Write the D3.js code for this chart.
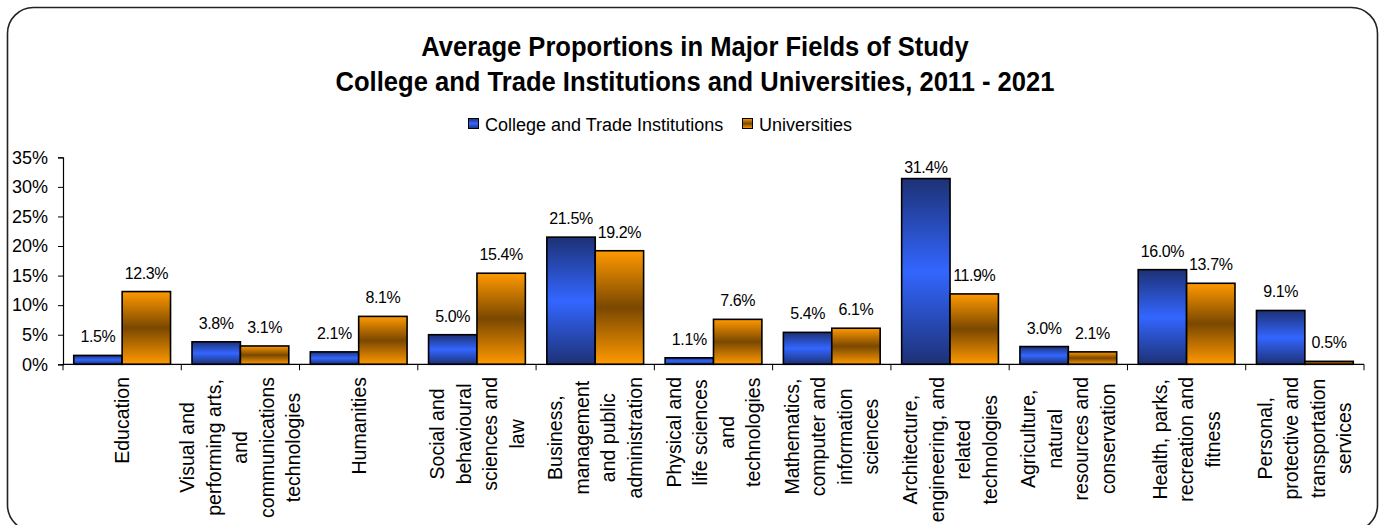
<!DOCTYPE html>
<html>
<head>
<meta charset="utf-8">
<script src="https://cdn.jsdelivr.net/npm/d3@7"></script>
<style>
  html, body { margin: 0; padding: 0; background: #fff; }
  svg { display: block; font-family: "Liberation Sans", Arial, sans-serif; }
</style>
</head>
<body>
<svg id="chart" width="1382" height="525"></svg>
<script>
const categories = [
  "Education",
  "Visual and|performing arts,|and|communications|technologies",
  "Humanities",
  "Social and|behavioural|sciences and|law",
  "Business,|management|and public|administration",
  "Physical and|life sciences|and|technologies",
  "Mathematics,|computer and|information|sciences",
  "Architecture,|engineering, and|related|technologies",
  "Agriculture,|natural|resources and|conservation",
  "Health, parks,|recreation and|fitness",
  "Personal,|protective and|transportation|services"
];
const seriesNames = ["College and Trade Institutions", "Universities"];
const collegeValues = [1.5, 3.8, 2.1, 5.0, 21.5, 1.1, 5.4, 31.4, 3.0, 16.0, 9.1];
const universityValues = [12.3, 3.1, 8.1, 15.4, 19.2, 7.6, 6.1, 11.9, 2.1, 13.7, 0.5];
const yTicks = [0, 5, 10, 15, 20, 25, 30, 35];
const titleLines = [
  "Average Proportions in Major Fields of Study",
  "College and Trade Institutions and Universities, 2011 - 2021"
];

const svg = d3.select("#chart");

// gradients
const defs = svg.append("defs");
const gBlue = defs.append("linearGradient").attr("id", "gBlue")
  .attr("x1", 0).attr("y1", 0).attr("x2", 0).attr("y2", 1);
gBlue.append("stop").attr("offset", "0%").attr("stop-color", "#1d3175");
gBlue.append("stop").attr("offset", "50%").attr("stop-color", "#3366ff");
gBlue.append("stop").attr("offset", "100%").attr("stop-color", "#1d3175");
const gOrange = defs.append("linearGradient").attr("id", "gOrange")
  .attr("x1", 0).attr("y1", 0).attr("x2", 0).attr("y2", 1);
gOrange.append("stop").attr("offset", "0%").attr("stop-color", "#ff9900");
gOrange.append("stop").attr("offset", "50%").attr("stop-color", "#7a4800");
gOrange.append("stop").attr("offset", "100%").attr("stop-color", "#ff9900");
const fills = ["url(#gBlue)", "url(#gOrange)"];

// frame
svg.append("rect")
  .attr("x", 7.5).attr("y", 7.5).attr("width", 1370).attr("height", 523.5)
  .attr("rx", 26).attr("ry", 26)
  .attr("fill", "#fff").attr("stroke", "#222").attr("stroke-width", 1.6);

// title (slightly condensed bold)
svg.append("g").attr("transform", "translate(695,0) scale(0.93,1)")
  .append("text")
  .attr("text-anchor", "middle")
  .attr("font-weight", "bold").attr("font-size", 27.5)
  .selectAll("tspan").data(titleLines).join("tspan")
  .attr("x", 0).attr("y", (d, i) => 56 + i * 35)
  .text(d => d);

// scales
const x = d3.scaleBand().domain(categories).range([63, 1364]).paddingInner(0).paddingOuter(0);
const xs = d3.scaleBand().domain(seriesNames).range([0, x.bandwidth()]).paddingInner(0).paddingOuter(0.222);
const y = d3.scaleLinear().domain([0, 35]).range([364.3, 157.3]);

// legend
const legend = svg.append("g").attr("font-size", 18);
const legendItems = [
  { name: seriesNames[0], x: 468 },
  { name: seriesNames[1], x: 742 }
];
legendItems.forEach((it, i) => {
  legend.append("rect").attr("x", it.x + 0.5).attr("y", 118.5).attr("width", 10).attr("height", 10)
    .attr("fill", fills[i]).attr("stroke", "#000").attr("stroke-width", 1);
  legend.append("text").attr("x", it.x + 17).attr("y", 130.5).text(it.name);
});

// y axis
const yAxis = svg.append("g").attr("transform", "translate(63,0)")
  .call(d3.axisLeft(y).tickValues(yTicks).tickFormat(d => d + "%").tickSize(5).tickPadding(10));
yAxis.select(".domain").attr("stroke", "#000").attr("stroke-width", 1.2);
yAxis.selectAll(".tick line").attr("stroke", "#000");
yAxis.selectAll(".tick text").attr("font-size", 18).attr("font-family", "Liberation Sans, Arial, sans-serif").attr("fill", "#000");

// bars
const rows = categories.map((c, i) => ({ cat: c, vals: [collegeValues[i], universityValues[i]] }));
const groups = svg.append("g").selectAll("g").data(rows).join("g")
  .attr("transform", d => `translate(${x(d.cat)},0)`);
groups.selectAll("rect").data(d => d.vals.map((v, k) => ({ v, k }))).join("rect")
  .attr("x", d => xs(seriesNames[d.k]))
  .attr("y", d => y(d.v))
  .attr("width", xs.bandwidth())
  .attr("height", d => y(0) - y(d.v))
  .attr("fill", d => fills[d.k])
  .attr("stroke", "#000").attr("stroke-width", 1.6);
const labelMinY = y(35) + 16;
groups.selectAll("text.val").data(d => d.vals.map((v, k) => ({ v, k }))).join("text")
  .attr("class", "val")
  .attr("x", d => xs(seriesNames[d.k]) + xs.bandwidth() / 2)
  .attr("y", d => Math.max(y(d.v) - 13, labelMinY))
  .attr("text-anchor", "middle")
  .attr("font-size", 16).attr("letter-spacing", -0.4)
  .text(d => d.v.toFixed(1) + "%");

// x axis
const xAxisG = svg.append("g").attr("transform", `translate(0,${y(0)})`);
xAxisG.append("line").attr("x1", 63).attr("x2", 1364).attr("y1", 0).attr("y2", 0)
  .attr("stroke", "#000").attr("stroke-width", 1.2);
const boundaries = categories.map(c => x(c)).concat([x.range()[1]]);
xAxisG.selectAll("line.tk").data(boundaries).join("line").attr("class", "tk")
  .attr("x1", d => d).attr("x2", d => d).attr("y1", 0).attr("y2", 6)
  .attr("stroke", "#000").attr("stroke-width", 1);

// category labels (rotated, multi-line, centered)
const lineGap = 26.5;
const labelTop = y(0) + 12.7;
const labG = svg.append("g").attr("font-size", 19.5);
categories.forEach(c => {
  const lines = c.split("|");
  const cx = x(c) + x.bandwidth() / 2;
  const n = lines.length;
  const texts = lines.map(ln => labG.append("text")
    .attr("text-anchor", "middle").attr("dy", "0.35em").text(ln));
  const maxLen = d3.max(texts, t => t.node().getComputedTextLength());
  const cy = labelTop + maxLen / 2;
  texts.forEach((t, i) => {
    const lx = cx + (i - (n - 1) / 2) * lineGap;
    t.attr("transform", `translate(${lx},${cy}) rotate(-90)`);
  });
});
</script>
</body>
</html>
